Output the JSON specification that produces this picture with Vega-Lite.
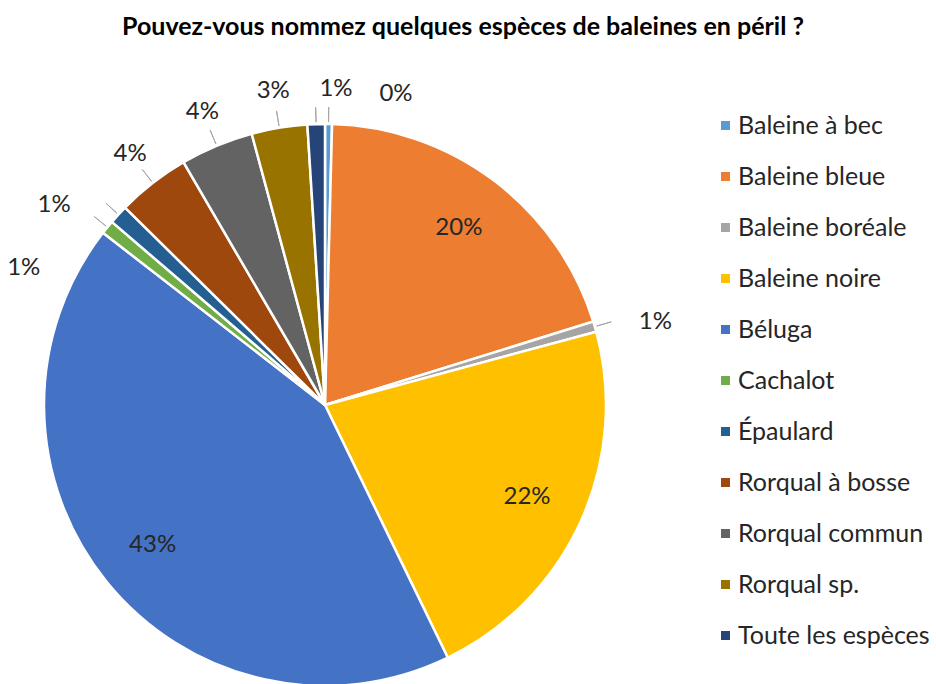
{
  "$schema": "https://vega.github.io/schema/vega-lite/v6.json",
  "width": 562,
  "height": 556,
  "autosize": {"type": "none"},
  "padding": {"left": 44, "top": 127, "right": 330, "bottom": 1},
  "background": "white",
  "title": {
    "text": "Pouvez-vous nommez quelques espèces de baleines en péril ?",
    "font": "Lato",
    "fontSize": 25,
    "fontWeight": "bold",
    "color": "#000000",
    "anchor": "middle",
    "dx": 138,
    "baseline": "alphabetic",
    "offset": 17
  },
  "data": {
    "values": [
      {"k": 1, "espece": "Baleine à bec", "v": 0.004},
      {"k": 2, "espece": "Baleine bleue", "v": 0.198},
      {"k": 3, "espece": "Baleine boréale", "v": 0.006},
      {"k": 4, "espece": "Baleine noire", "v": 0.220},
      {"k": 5, "espece": "Béluga", "v": 0.427},
      {"k": 6, "espece": "Cachalot", "v": 0.008},
      {"k": 7, "espece": "Épaulard", "v": 0.011},
      {"k": 8, "espece": "Rorqual à bosse", "v": 0.042},
      {"k": 9, "espece": "Rorqual commun", "v": 0.042},
      {"k": 10, "espece": "Rorqual sp.", "v": 0.032},
      {"k": 11, "espece": "Toute les espèces", "v": 0.010}
    ]
  },
  "transform": [
    {"window": [{"op": "sum", "field": "v", "as": "cum"}], "sort": [{"field": "k"}]},
    {"calculate": "datum.cum - datum.v / 2", "as": "mid"},
    {"calculate": "datum.cum - datum.v", "as": "start"}
  ],
  "layer": [
    {
      "mark": {"type": "arc", "radius": 281, "stroke": "white", "strokeWidth": 2.5},
      "encoding": {
        "theta": {"field": "start", "type": "quantitative", "scale": {"domain": [0, 1]}, "stack": null},
        "theta2": {"field": "cum"},
        "color": {
          "field": "espece",
          "type": "nominal",
          "scale": {
            "domain": ["Baleine à bec", "Baleine bleue", "Baleine boréale", "Baleine noire", "Béluga", "Cachalot", "Épaulard", "Rorqual à bosse", "Rorqual commun", "Rorqual sp.", "Toute les espèces"],
            "range": ["#5B9BD5", "#ED7D31", "#A5A5A5", "#FFC000", "#4472C4", "#70AD47", "#255E91", "#9E480E", "#636363", "#997300", "#264478"]
          },
          "legend": {
            "title": null,
            "orient": "none",
            "legendX": 669,
            "legendY": -14,
            "symbolType": "square",
            "symbolSize": 81,
            "symbolStrokeWidth": 0,
            "labelFont": "Lato",
            "labelFontSize": 25,
            "labelColor": "#262626",
            "labelLimit": 400,
            "labelOffset": 0,
            "rowPadding": 25
          }
        }
      }
    },
    {
      "transform": [{"filter": "datum.v < 0.1"}],
      "mark": {"type": "arc", "radius": 283, "radius2": 298, "stroke": "#A6A6A6", "strokeWidth": 1, "fill": null},
      "encoding": {
        "theta": {"field": "mid", "type": "quantitative", "scale": {"domain": [0, 1]}, "stack": null},
        "theta2": {"field": "mid"}
      }
    },
    {
      "transform": [{"filter": "datum.v >= 0.1"}],
      "mark": {"type": "text", "radius": 222, "font": "Lato", "fontSize": 24, "color": "#262626"},
      "encoding": {
        "theta": {"field": "mid", "type": "quantitative", "scale": {"domain": [0, 1]}, "stack": null},
        "text": {"field": "v", "type": "quantitative", "format": ".0%"}
      }
    },
    {
      "transform": [{"filter": "datum.k >= 8 && datum.k <= 10"}],
      "mark": {"type": "text", "radius": 318, "font": "Lato", "fontSize": 24, "color": "#262626"},
      "encoding": {
        "theta": {"field": "mid", "type": "quantitative", "scale": {"domain": [0, 1]}, "stack": null},
        "text": {"field": "v", "type": "quantitative", "format": ".0%"}
      }
    },
    {
      "transform": [{"filter": "datum.k == 1"}],
      "mark": {"type": "text", "radius": 318, "dx": 67, "dy": 7, "font": "Lato", "fontSize": 24, "color": "#262626"},
      "encoding": {
        "theta": {"field": "mid", "type": "quantitative", "scale": {"domain": [0, 1]}, "stack": null},
        "text": {"field": "v", "type": "quantitative", "format": ".0%"}
      }
    },
    {
      "transform": [{"filter": "datum.k == 11"}],
      "mark": {"type": "text", "radius": 318, "dx": 21, "dy": 2, "font": "Lato", "fontSize": 24, "color": "#262626"},
      "encoding": {
        "theta": {"field": "mid", "type": "quantitative", "scale": {"domain": [0, 1]}, "stack": null},
        "text": {"field": "v", "type": "quantitative", "format": ".0%"}
      }
    },
    {
      "transform": [{"filter": "datum.k == 3"}],
      "mark": {"type": "text", "radius": 318, "dx": 25, "dy": 6, "font": "Lato", "fontSize": 24, "color": "#262626"},
      "encoding": {
        "theta": {"field": "mid", "type": "quantitative", "scale": {"domain": [0, 1]}, "stack": null},
        "text": {"field": "v", "type": "quantitative", "format": ".0%"}
      }
    },
    {
      "transform": [{"filter": "datum.k == 7"}],
      "mark": {"type": "text", "radius": 318, "dx": -37, "dy": 15, "font": "Lato", "fontSize": 24, "color": "#262626"},
      "encoding": {
        "theta": {"field": "mid", "type": "quantitative", "scale": {"domain": [0, 1]}, "stack": null},
        "text": {"field": "v", "type": "quantitative", "format": ".0%"}
      }
    },
    {
      "transform": [{"filter": "datum.k == 6"}],
      "mark": {"type": "text", "radius": 318, "dx": -55, "dy": 64, "font": "Lato", "fontSize": 24, "color": "#262626"},
      "encoding": {
        "theta": {"field": "mid", "type": "quantitative", "scale": {"domain": [0, 1]}, "stack": null},
        "text": {"field": "v", "type": "quantitative", "format": ".0%"}
      }
    }
  ],
  "config": {"view": {"stroke": null}}
}
